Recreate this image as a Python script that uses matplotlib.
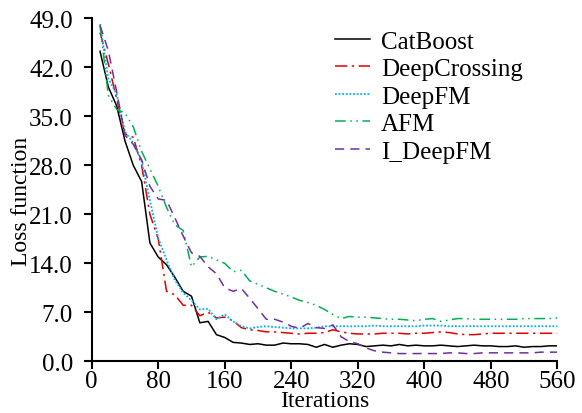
import matplotlib
matplotlib.use('Agg')
import matplotlib.pyplot as plt
import numpy as np

iterations = list(range(10, 561, 10))

catboost = [44.3, 39.2, 36.5, 31.5, 28.0, 25.7, 16.9, 14.9, 13.8, 12.0,
            10.0, 9.3, 5.5, 5.7, 3.8, 3.4, 2.7, 2.6, 2.4, 2.5,
            2.3, 2.3, 2.6, 2.5, 2.5, 2.4, 2.0, 2.4, 2.0, 2.3,
            2.5, 2.4, 2.1, 2.2, 2.3, 2.2, 2.4, 2.2, 2.3, 2.2,
            2.2, 2.3, 2.2, 2.1, 2.2, 2.3, 2.2, 2.2, 2.1, 2.1,
            2.2, 2.0, 2.1, 2.1, 2.2, 2.2]
deepcrossing = [47.0, 42.5, 37.5, 32.5, 32.0, 28.0, 21.0, 17.5, 10.0, 9.5,
                8.0, 8.0, 6.5, 7.0, 6.2, 6.3, 5.8, 4.8, 4.5, 4.4,
                4.2, 4.2, 4.1, 4.0, 3.9, 4.0, 4.0, 4.1, 4.5, 4.2,
                4.0, 3.9, 3.9, 3.9, 4.0, 4.0, 4.0, 3.9, 4.0, 4.0,
                4.1, 4.2, 4.1, 3.9, 3.8, 3.8, 3.9, 4.0, 4.0, 4.0,
                4.0, 4.0, 4.0, 4.0, 4.0, 4.0]
deepfm = [48.2, 40.4, 38.2, 32.8, 31.2, 28.6, 23.0, 17.6, 14.5, 11.6,
          9.8, 8.7, 7.4, 7.5, 6.0, 6.7, 5.7, 5.0, 4.7, 4.9,
          5.0, 4.9, 4.8, 4.7, 4.7, 4.7, 4.8, 5.0, 5.0, 5.0,
          5.0, 5.0, 5.0, 5.1, 5.0, 5.0, 5.0, 5.0, 5.0, 5.1,
          5.1, 5.1, 5.0, 5.0, 5.0, 5.0, 5.0, 5.0, 5.0, 5.0,
          5.0, 5.0, 5.0, 5.0, 5.0, 5.0]
afm = [48.0, 38.0, 36.0, 35.5, 33.5, 30.0, 27.5, 25.0, 22.0, 19.5,
       18.7, 13.5, 14.9, 15.0, 14.5, 14.0, 12.8, 13.0, 11.5, 11.0,
       10.5, 10.0, 9.6, 9.2, 8.7, 8.4, 8.0, 7.4, 6.7, 6.1,
       6.4, 6.3, 6.3, 6.2, 6.1, 6.0, 6.0, 5.9, 5.8, 6.0,
       6.1, 5.7, 5.9, 6.1, 6.1, 6.0, 6.0, 6.0, 6.0, 6.0,
       6.0, 6.1, 6.1, 6.1, 6.1, 6.2]
i_deepfm = [48.0, 44.4, 38.5, 32.3, 31.0, 28.8, 25.0, 23.2, 23.0, 20.5,
            17.9, 15.5, 15.0, 13.5, 12.5, 10.5, 10.0, 10.4, 9.0, 7.5,
            6.0, 6.0, 5.6, 5.0, 4.7, 5.4, 4.8, 4.7, 5.2, 3.5,
            2.8, 2.5, 1.9, 1.5, 1.3, 1.2, 1.1, 1.1, 1.1, 1.1,
            1.1, 1.1, 1.2, 1.2, 1.1, 1.1, 1.2, 1.2, 1.2, 1.2,
            1.2, 1.2, 1.2, 1.3, 1.3, 1.3]

x_ticks = list(range(0, 561, 80))
y_ticks = [0.0, 7.0, 14.0, 21.0, 28.0, 35.0, 42.0, 49.0]

plt.rcParams['font.family'] = ['Liberation Serif', 'DejaVu Serif']
plt.rcParams['font.size'] = 18

fig = plt.figure(figsize=(5.82, 4.14), dpi=100)
ax = fig.add_axes([0.1576, 0.125, 0.8, 0.828])

ax.plot(iterations, catboost, color='black', lw=1.1, label='CatBoost')
ax.plot(iterations, deepcrossing, color='#e00000', lw=1.1,
        linestyle=(0, (8, 3, 1.5, 3)), label='DeepCrossing')
ax.plot(iterations, deepfm, color='#00b0f0', lw=1.3,
        linestyle=(0, (1, 1)), label='DeepFM')
ax.plot(iterations, afm, color='#00b050', lw=1.1,
        linestyle=(0, (7, 3, 1, 3, 1, 3)), label='AFM')
ax.plot(iterations, i_deepfm, color='#7030a0', lw=1.1,
        linestyle=(0, (6, 4)), label='I_DeepFM')

ax.set_xlim(0, 560)
ax.set_ylim(0, 49)
ax.set_xticks(x_ticks)
ax.set_yticks(y_ticks)
ax.set_yticklabels(['%.1f' % v for v in y_ticks])
ax.spines['top'].set_visible(False)
ax.spines['right'].set_visible(False)
ax.spines['left'].set_linewidth(1.5)
ax.spines['bottom'].set_linewidth(1.5)
ax.tick_params(direction='out', length=5.5, width=1.5)
ax.tick_params(axis='x', pad=1)
ax.tick_params(axis='y', pad=8)
ax.set_xlabel('Iterations', fontsize=17, labelpad=-1.5)
ax.set_ylabel('Loss function', fontsize=17)
ax.yaxis.set_label_coords(-0.128, 0.47)

fig.legend(loc='upper left', bbox_to_anchor=(0.5756, 0.925), frameon=False,
           borderpad=0, borderaxespad=0, handlelength=1.4, handletextpad=0.45,
           labelspacing=0.2)

fig.savefig('out.png', dpi=100)
